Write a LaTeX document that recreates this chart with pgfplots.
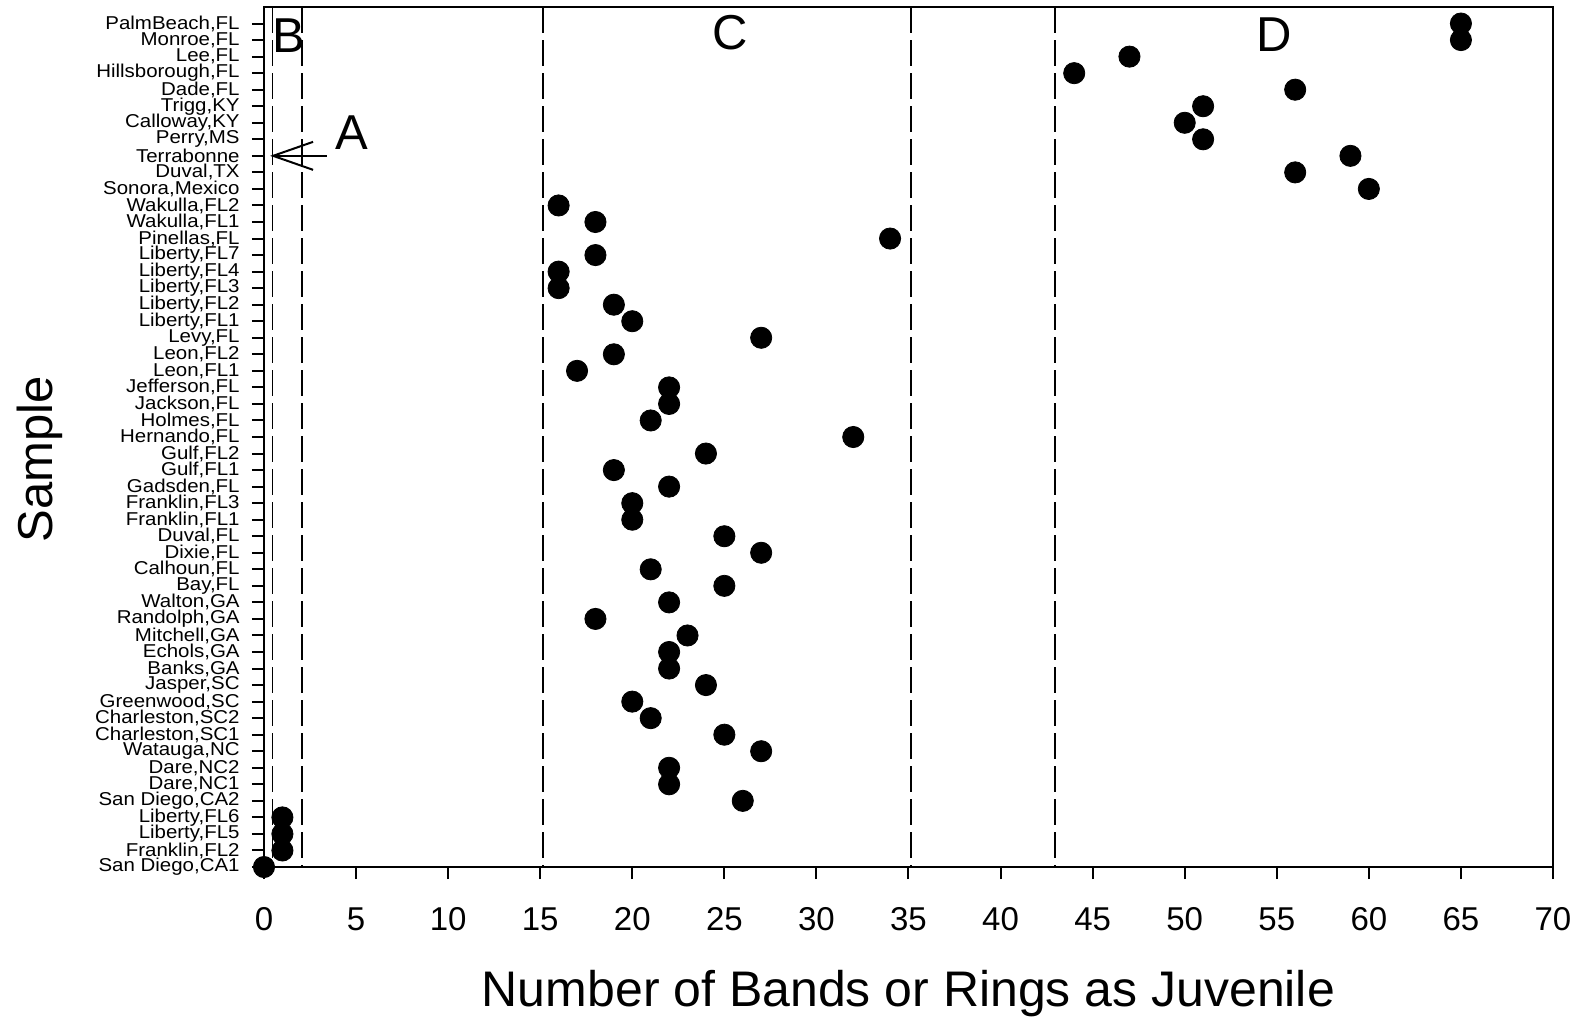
\documentclass[border=0pt]{standalone}
\usepackage{fontspec}
\setmainfont{Liberation Sans}
\newfontfamily\ticklabelfont[FakeStretch=1.1]{Liberation Sans}
\usepackage{pgfplots}
\pgfplotsset{compat=1.18}
\usetikzlibrary{arrows.meta}

\begin{document}
\begin{tikzpicture}
\useasboundingbox (-132pt,-75.5pt) rectangle (659.5pt,433.5pt);
\begin{axis}[%
width=644.5pt,
height=430pt,
at={(0pt,0pt)},
anchor=south west,
scale only axis,
clip=false,
xmin=0, xmax=70,
ymin=0, ymax=52,
xtick={0,5,...,70},
ytick={0,...,51},
yticklabels={{San Diego,CA1},{Franklin,FL2},{Liberty,FL5},{Liberty,FL6},{San Diego,CA2},
{Dare,NC1},{Dare,NC2},{Watauga,NC},{Charleston,SC1},{Charleston,SC2},{Greenwood,SC},
{Jasper,SC},{Banks,GA},{Echols,GA},{Mitchell,GA},{Randolph,GA},{Walton,GA},{Bay,FL},
{Calhoun,FL},{Dixie,FL},{Duval,FL},{Franklin,FL1},{Franklin,FL3},{Gadsden,FL},{Gulf,FL1},
{Gulf,FL2},{Hernando,FL},{Holmes,FL},{Jackson,FL},{Jefferson,FL},{Leon,FL1},{Leon,FL2},
{Levy,FL},{Liberty,FL1},{Liberty,FL2},{Liberty,FL3},{Liberty,FL4},{Liberty,FL7},
{Pinellas,FL},{Wakulla,FL1},{Wakulla,FL2},{Sonora,Mexico},{Duval,TX},{Terrabonne},
{Perry,MS},{Calloway,KY},{Trigg,KY},{Dade,FL},{Hillsborough,FL},{Lee,FL},{Monroe,FL},
{PalmBeach,FL}},
/pgf/number format/assume math mode=true,
tick align=outside,
xtick pos=bottom,
ytick pos=left,
major tick length=6pt,
tick style={line width=1pt, black},
axis line style={line width=1pt},
xticklabel style={font=\fontsize{16.5}{16.5}\selectfont, anchor=center, yshift=-20pt},
yticklabel style={font=\ticklabelfont\fontsize{9.3}{9.3}\selectfont, anchor=east, inner sep=0pt, xshift=-6pt},
xlabel={Number of Bands or Rings as Juvenile},
ylabel={Sample},
xlabel style={font=\fontsize{25}{25}\selectfont, at={(rel axis cs:0.5,-0.147)}, anchor=center},
ylabel style={font=\fontsize{24.5}{24.5}\selectfont, at={(rel axis cs:-0.174,0.474)}, anchor=center},
]
% region boundaries
\addplot[black, line width=0.8pt, dash pattern=on 13pt off 3.5pt] coordinates {(0.47,52) (0.47,0)};
\addplot[black, line width=0.8pt, dash pattern=on 13pt off 3.5pt] coordinates {(2.06,52) (2.06,0)};
\addplot[black, line width=0.8pt, dash pattern=on 13pt off 3.5pt] coordinates {(15.14,52) (15.14,0)};
\addplot[black, line width=0.8pt, dash pattern=on 13pt off 3.5pt] coordinates {(35.13,52) (35.13,0)};
\addplot[black, line width=0.8pt, dash pattern=on 13pt off 3.5pt] coordinates {(42.97,52) (42.97,0)};

\addplot[only marks, mark=*, mark size=5.3pt, black] table[row sep=crcr] {%
x	y\\
0	0\\
1	1\\
1	2\\
1	3\\
26	4\\
22	5\\
22	6\\
27	7\\
25	8\\
21	9\\
20	10\\
24	11\\
22	12\\
22	13\\
23	14\\
18	15\\
22	16\\
25	17\\
21	18\\
27	19\\
25	20\\
20	21\\
20	22\\
22	23\\
19	24\\
24	25\\
32	26\\
21	27\\
22	28\\
22	29\\
17	30\\
19	31\\
27	32\\
20	33\\
19	34\\
16	35\\
16	36\\
18	37\\
34	38\\
18	39\\
16	40\\
60	41\\
56	42\\
59	43\\
51	44\\
50	45\\
51	46\\
56	47\\
44	48\\
47	49\\
65	50\\
65	51\\
};

\node[font=\fontsize{24.5}{24.5}\selectfont] at (axis cs:1.36,50.27) {B};
\node[font=\fontsize{24.5}{24.5}\selectfont] at (axis cs:25.3,50.45) {C};
\node[font=\fontsize{24.5}{24.5}\selectfont] at (axis cs:54.86,50.3) {D};
\node[font=\fontsize{24.5}{24.5}\selectfont] at (axis cs:4.78,44.4) {A};
\draw[line width=1pt, -{Straight Barb[length=20pt,width=14pt]}] (axis cs:3.4,43) -- (axis cs:0.33,43);
\end{axis}
\end{tikzpicture}
\end{document}
